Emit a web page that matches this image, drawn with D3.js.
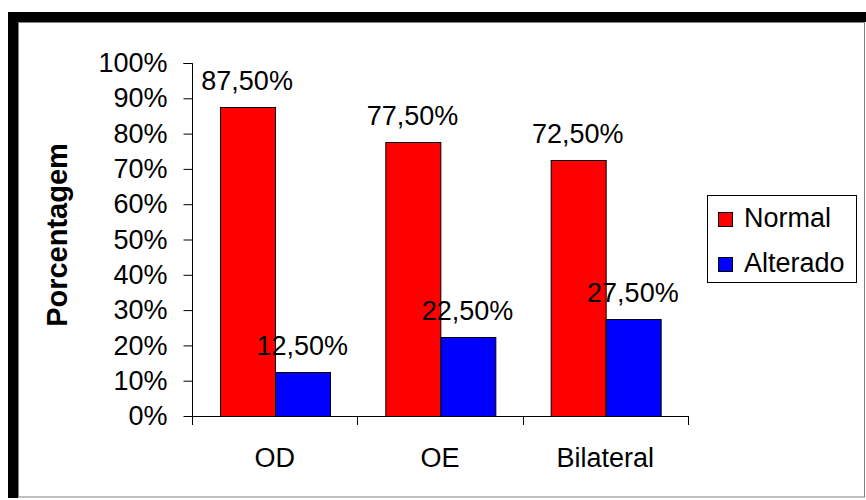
<!DOCTYPE html>
<html>
<head>
<meta charset="utf-8">
<script src="https://cdn.jsdelivr.net/npm/d3@7/dist/d3.min.js"></script>
<style>
  html, body { margin: 0; padding: 0; background: #fff; }
  svg { display: block; }
  text { font-family: Arial, "Liberation Sans", sans-serif; fill: #000; }
</style>
</head>
<body>
<svg id="chart" width="866" height="500"></svg>
<script>
// Chart data
const categories = ["OD", "OE", "Bilateral"];
const seriesNames = ["Normal", "Alterado"];
const normalValues = [87.5, 77.5, 72.5];
const alteradoValues = [12.5, 22.5, 27.5];
const yTicks = [0, 10, 20, 30, 40, 50, 60, 70, 80, 90, 100];
const seriesColors = ["#ff0000", "#0000ff"];

const svg = d3.select("#chart");

// Outer frame: heavy black edge on top and left, thin grey edge inside
svg.append("rect").attr("x", 8).attr("y", 12).attr("width", 858).attr("height", 10).attr("fill", "#000");
svg.append("rect").attr("x", 8).attr("y", 12).attr("width", 10).attr("height", 486).attr("fill", "#000");
svg.append("rect").attr("x", 18.5).attr("y", 22.5).attr("width", 846).attr("height", 474.5)
  .attr("fill", "none").attr("stroke", "#808080").attr("stroke-width", 1);

const plot = { left: 192, right: 688, top: 63, bottom: 416 };

const x0 = d3.scaleBand().domain(categories).range([plot.left, plot.right]).paddingInner(0).paddingOuter(0);
const x1 = d3.scaleBand().domain(seriesNames).range([0, x0.bandwidth()]).paddingInner(0).paddingOuter(0.5);
const y = d3.scaleLinear().domain([0, 100]).range([plot.bottom, plot.top]);

const fmtPct = v => d3.format(".2f")(v).replace(".", ",") + "%";

// Bars
const rows = categories.map((c, i) => ({ cat: c, vals: [normalValues[i], alteradoValues[i]] }));
const groups = svg.append("g").selectAll("g").data(rows).join("g")
  .attr("transform", d => `translate(${x0(d.cat)},0)`);

groups.selectAll("rect").data(d => d.vals.map((v, j) => ({ name: seriesNames[j], v, j })))
  .join("rect")
  .attr("x", d => Math.round(x1(d.name)) + 0.5)
  .attr("y", d => Math.round(y(d.v)) + 0.5)
  .attr("width", d => Math.round(x1.bandwidth()))
  .attr("height", d => Math.round(y(0)) - Math.round(y(d.v)))
  .attr("fill", d => seriesColors[d.j])
  .attr("stroke", "#000").attr("stroke-width", 1);

// Y axis
const yAxis = svg.append("g").attr("transform", `translate(${plot.left + 0.5},0)`)
  .call(d3.axisLeft(y).tickValues(yTicks).tickSize(9).tickPadding(16).tickFormat(d => d + "%"));
yAxis.select(".domain").attr("stroke", "#000").attr("d", `M-9,${y(100) + 0.5}H0V${y(0) + 0.5}`);
yAxis.selectAll(".tick line").attr("stroke", "#000");
yAxis.selectAll(".tick text").attr("font-size", "27px").attr("font-family", "Arial, 'Liberation Sans', sans-serif").attr("fill", "#000");

// X axis with ticks between categories
const xAxisG = svg.append("g");
xAxisG.append("line").attr("x1", plot.left).attr("x2", plot.right + 0.5)
  .attr("y1", plot.bottom + 0.5).attr("y2", plot.bottom + 0.5).attr("stroke", "#000");
const boundaries = categories.map(c => x0(c)).concat([x0.range()[1]]);
xAxisG.selectAll("line.tk").data(boundaries).join("line").attr("class", "tk")
  .attr("x1", d => Math.round(d) + 0.5).attr("x2", d => Math.round(d) + 0.5)
  .attr("y1", plot.bottom).attr("y2", plot.bottom + 9).attr("stroke", "#000");
xAxisG.selectAll("text").data(categories).join("text")
  .attr("x", d => x0(d) + x0.bandwidth() / 2)
  .attr("y", 467)
  .attr("text-anchor", "middle").attr("font-size", "27px")
  .text(d => d);

// Value labels
groups.selectAll("text").data(d => d.vals.map((v, j) => ({ name: seriesNames[j], v, j })))
  .join("text")
  .attr("x", d => x1(d.name) + x1.bandwidth() / 2)
  .attr("y", d => y(d.v) - 17)
  .attr("text-anchor", "middle").attr("font-size", "27px")
  .text(d => fmtPct(d.v));

// Axis title
svg.append("text")
  .attr("transform", "translate(67,235) rotate(-90)")
  .attr("text-anchor", "middle").attr("font-size", "29px").attr("font-weight", "bold")
  .text("Porcentagem");

// Legend
const legend = svg.append("g");
legend.append("rect").attr("x", 707.5).attr("y", 195.5).attr("width", 149).attr("height", 87)
  .attr("fill", "#fff").attr("stroke", "#000");
const items = legend.selectAll("g").data(seriesNames).join("g")
  .attr("transform", (d, i) => `translate(0,${i * 45})`);
items.append("rect").attr("x", 718.5).attr("y", 212.5).attr("width", 14).attr("height", 14)
  .attr("fill", (d, i) => seriesColors[i]).attr("stroke", "#000");
items.append("text").attr("x", 744).attr("y", 227).attr("font-size", "27px").text(d => d);
</script>
</body>
</html>
